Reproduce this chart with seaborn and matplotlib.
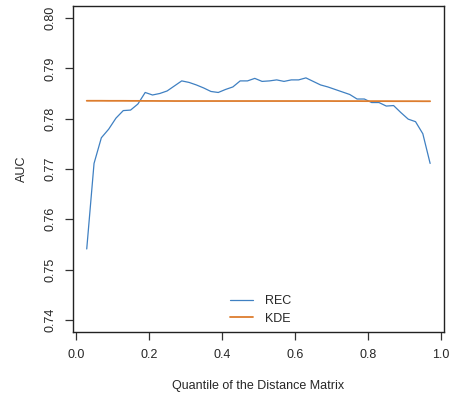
import numpy as np
import pandas as pd
import matplotlib
matplotlib.use("Agg")
import matplotlib.pyplot as plt
import seaborn as sns

# quantiles used for the distance matrix cut-off
quantile = [0.03, 0.05, 0.07, 0.09, 0.11, 0.13, 0.15, 0.17, 0.19, 0.21,
            0.23, 0.25, 0.27, 0.29, 0.31, 0.33, 0.35, 0.37, 0.39, 0.41,
            0.43, 0.45, 0.47, 0.49, 0.51, 0.53, 0.55, 0.57, 0.59, 0.61,
            0.63, 0.65, 0.67, 0.69, 0.71, 0.73, 0.75, 0.77, 0.79, 0.81,
            0.83, 0.85, 0.87, 0.89, 0.91, 0.93, 0.95, 0.97]

rec_auc = [0.7541, 0.7711, 0.7762, 0.7779, 0.7801, 0.7816, 0.7817, 0.7829, 0.7852, 0.7847,
           0.7850, 0.7855, 0.7865, 0.7875, 0.7872, 0.7867, 0.7861, 0.7854, 0.7852, 0.7858,
           0.7863, 0.7875, 0.7875, 0.7880, 0.7874, 0.7875, 0.7877, 0.7874, 0.7877, 0.7877,
           0.7881, 0.7874, 0.7867, 0.7863, 0.7858, 0.7853, 0.7848, 0.7839, 0.7839, 0.7832,
           0.7832, 0.7825, 0.7826, 0.7812, 0.7799, 0.7794, 0.7770, 0.7711]

kde_auc = [0.78355, 0.78355, 0.78355, 0.78354, 0.78354, 0.78354, 0.78353, 0.78353, 0.78352, 0.78352,
           0.78351, 0.78351, 0.78350, 0.78350, 0.78350, 0.78350, 0.78350, 0.78350, 0.78350, 0.78350,
           0.78350, 0.78350, 0.78350, 0.78350, 0.78350, 0.78350, 0.78350, 0.78350, 0.78350, 0.78350,
           0.78350, 0.78350, 0.78350, 0.78350, 0.78349, 0.78349, 0.78349, 0.78349, 0.78348, 0.78348,
           0.78348, 0.78348, 0.78347, 0.78347, 0.78347, 0.78347, 0.78346, 0.78346]

df = pd.DataFrame({
    'Quantile': quantile * 2,
    'AUC': rec_auc + kde_auc,
    'Method': ['REC'] * len(quantile) + ['KDE'] * len(quantile),
})

sns.set_style("ticks")
plt.rcParams['font.family'] = ['Liberation Sans', 'DejaVu Sans']

fig = plt.figure(figsize=(4.52, 3.95), dpi=100)
ax = fig.add_axes([0.1615, 0.1595, 0.8205, 0.8255])

sns.lineplot(data=df, x='Quantile', y='AUC', hue='Method',
             palette={'REC': '#3f80c2', 'KDE': '#dd7d2e'},
             size='Method', sizes={'REC': 0.9, 'KDE': 1.3},
             ax=ax, legend=True)

ax.set_xlim(-0.0076, 1.0076)
ax.set_ylim(0.7376, 0.8024)
ax.set_xticks([0.0, 0.2, 0.4, 0.6, 0.8, 1.0])
ax.set_xticklabels(['0.0', '0.2', '0.4', '0.6', '0.8', '1.0'])
ax.set_yticks([0.74, 0.75, 0.76, 0.77, 0.78, 0.79, 0.80])
ax.set_yticklabels(['0.74', '0.75', '0.76', '0.77', '0.78', '0.79', '0.80'],
                   rotation=90, va='center')
ax.tick_params(length=6, width=0.9, labelsize=9, pad=6, color='#333333')

for s in ax.spines.values():
    s.set_visible(True)
    s.set_color('#222222')
    s.set_linewidth(1.0)

ax.set_xlabel('Quantile of the Distance Matrix', fontsize=9, labelpad=14)
ax.set_ylabel('AUC', fontsize=9, labelpad=12)

handles, labels = ax.get_legend_handles_labels()
ax.legend(handles, labels, loc='lower center', bbox_to_anchor=(0.505, -0.012),
          frameon=False, fontsize=9, handlelength=1.9, handletextpad=0.9,
          labelspacing=0.45)

fig.savefig('out.png', dpi=100)
